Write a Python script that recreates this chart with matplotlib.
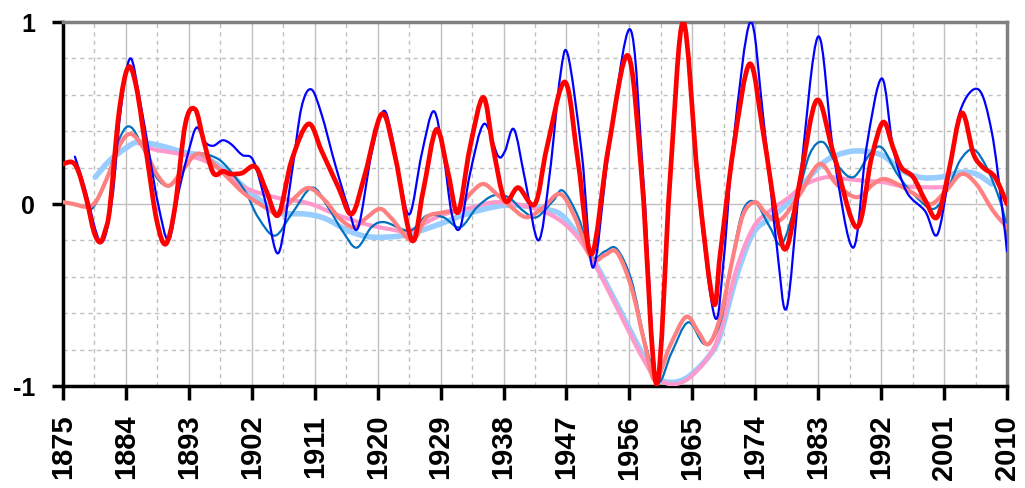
import numpy as np
import matplotlib.pyplot as plt
from matplotlib.path import Path
from matplotlib.patches import PathPatch

# series (year, value)
blue_years = [1876.7, 1878.1, 1880.4, 1882.0, 1883.2, 1884.6, 1886.0, 1887.4, 1888.6, 1890.1,
              1891.5, 1892.9, 1894.1, 1895.3, 1896.5, 1897.8, 1899.0, 1900.6, 1902.2, 1903.9,
              1905.8, 1907.7, 1909.1, 1910.5, 1912.0, 1913.9, 1915.8, 1917.2, 1919.1, 1920.8,
              1922.0, 1923.2, 1924.6, 1926.3, 1928.0, 1929.4, 1930.6, 1931.8, 1933.2, 1935.2,
              1937.2, 1938.2, 1939.5, 1941.1, 1943.0, 1944.6, 1946.1, 1947.2, 1949.2, 1950.8,
              1953.0, 1956.1, 1958.0, 1960.0, 1961.8, 1963.7, 1965.8, 1968.2, 1969.5, 1970.9,
              1973.3, 1975.1, 1977.1, 1978.5, 1980.4, 1983.0, 1985.2, 1988.0, 1989.9, 1992.1,
              1993.7, 1995.6, 1998.3, 2000.0, 2001.6, 2003.3, 2005.9, 2007.8, 2009.3, 2010.0]
blue_vals = [0.26, 0.09, -0.21, 0.02, 0.50, 0.80, 0.57, 0.26, 0.00, -0.20,
             0.06, 0.28, 0.42, 0.34, 0.32, 0.35, 0.33, 0.27, 0.24, 0.02,
             -0.27, 0.165, 0.53, 0.63, 0.49, 0.22, -0.02, -0.13, 0.275, 0.51,
             0.38, 0.13, -0.055, 0.275, 0.51, 0.275, -0.055, -0.13, 0.165, 0.44,
             0.265, 0.29, 0.41, 0.13, -0.20, 0.165, 0.70, 0.82, 0.275, -0.35,
             0.275, 0.96, 0.13, -1.0, 0.13, 1.0, 0.09, -0.62, -0.30, 0.35,
             1.0, 0.49, -0.24, -0.57, 0.13, 0.92, 0.275, -0.24, 0.31, 0.69,
             0.31, 0.07, -0.04, -0.17, 0.13, 0.51, 0.63, 0.40, -0.02, -0.26]

red_years = [1875.0, 1876.3, 1877.2, 1878.4, 1879.4, 1880.3, 1881.0, 1881.7, 1883.0, 1884.3,
             1885.5, 1887.0, 1888.4, 1889.7, 1891.0, 1892.5, 1893.9, 1895.1, 1896.5, 1897.9,
             1899.0, 1900.6, 1902.5, 1904.1, 1905.8, 1907.7, 1910.1, 1912.0, 1914.4, 1916.3,
             1918.2, 1920.6, 1922.5, 1924.9, 1926.5, 1928.4, 1930.1, 1931.5, 1933.2, 1935.1,
             1936.5, 1938.2, 1940.1, 1942.5, 1944.2, 1946.8, 1948.7, 1950.6, 1953.0, 1955.8,
             1957.8, 1959.9, 1961.8, 1963.7, 1965.8, 1968.0, 1969.0, 1970.9, 1973.2, 1975.1,
             1977.1, 1978.5, 1980.4, 1982.8, 1985.2, 1988.5, 1990.6, 1992.3, 1993.7, 1994.9,
             1996.6, 1998.3, 2000.0, 2001.6, 2003.5, 2005.2, 2006.6, 2008.3, 2010.0]
red_vals = [0.22, 0.23, 0.18, 0.02, -0.15, -0.21, -0.15, -0.02, 0.50, 0.75,
            0.64, 0.26, -0.09, -0.22, -0.02, 0.44, 0.52, 0.35, 0.17, 0.18,
            0.165, 0.17, 0.205, 0.07, -0.06, 0.24, 0.44, 0.29, 0.09, -0.055,
            0.165, 0.495, 0.26, -0.20, 0.07, 0.41, 0.165, -0.046, 0.31, 0.586,
            0.31, 0.02, 0.09, 0.0, 0.31, 0.67, 0.22, -0.275, 0.31, 0.815,
            0.13, -0.99, 0.13, 1.0, 0.13, -0.54, -0.27, 0.31, 0.77, 0.40,
            -0.09, -0.24, 0.13, 0.57, 0.275, -0.128, 0.25, 0.45, 0.31, 0.20,
            0.147, 0.02, -0.073, 0.165, 0.50, 0.275, 0.20, 0.147, 0.0]

steel_years = [1878.5, 1879.3, 1881.2, 1883.2, 1884.8, 1887.0, 1888.5, 1890.3, 1892.2, 1894.1,
               1896.5, 1898.3, 1901.0, 1902.9, 1905.3, 1907.7, 1910.6, 1912.9, 1915.0, 1917.0,
               1919.1, 1921.0, 1924.6, 1927.0, 1929.4, 1931.8, 1934.2, 1936.5, 1938.7, 1940.8,
               1942.7, 1945.1, 1946.5, 1948.7, 1950.6, 1952.5, 1954.2, 1956.3, 1958.2, 1960.1,
               1962.0, 1964.4, 1966.8, 1969.0, 1970.9, 1972.3, 1974.0, 1976.1, 1977.8, 1979.9,
               1981.8, 1983.7, 1985.6, 1988.0, 1990.4, 1992.1, 1994.3, 1996.6, 1999.5, 2001.6,
               2003.3, 2005.2, 2007.1, 2009.0, 2010.0]
steel_vals = [0.0, -0.02, 0.13, 0.37, 0.42, 0.26, 0.14, 0.10, 0.20, 0.275,
              0.26, 0.21, 0.073, -0.073, -0.174, -0.055, 0.09, -0.018, -0.15, -0.24,
              -0.128, -0.10, -0.147, -0.064, -0.073, -0.128, -0.018, 0.046, 0.037, -0.037,
              -0.073, 0.018, 0.073, -0.073, -0.29, -0.26, -0.247, -0.42, -0.75, -0.98,
              -0.82, -0.65, -0.77, -0.65, -0.26, -0.03, 0.01, -0.128, -0.22, 0.018,
              0.275, 0.34, 0.22, 0.147, 0.275, 0.31, 0.165, 0.055, -0.027, 0.09,
              0.24, 0.30, 0.20, 0.018, -0.128]

light_years = [1879.6, 1881.7, 1884.1, 1885.8, 1888.9, 1892.2, 1895.1, 1898.4, 1901.0, 1903.9,
               1905.8, 1909.6, 1912.5, 1915.8, 1918.7, 1922.0, 1924.6, 1928.9, 1932.7, 1937.5,
               1940.8, 1943.7, 1946.1, 1948.2, 1950.6, 1953.0, 1955.4, 1957.8, 1959.7, 1962.0,
               1964.4, 1967.3, 1969.0, 1971.3, 1973.7, 1976.1, 1978.5, 1981.3, 1984.2, 1987.1,
               1989.5, 1992.3, 1994.7, 1997.5, 2000.4, 2003.3, 2005.6, 2007.8]
light_vals = [0.147, 0.24, 0.31, 0.34, 0.32, 0.285, 0.26, 0.18, 0.09, 0.0,
              -0.05, -0.055, -0.08, -0.147, -0.18, -0.18, -0.165, -0.11, -0.055, -0.01,
              -0.01, -0.027, -0.055, -0.147, -0.29, -0.46, -0.64, -0.82, -0.95, -0.98,
              -0.95, -0.84, -0.72, -0.40, -0.16, -0.08, 0.0, 0.13, 0.24, 0.285,
              0.29, 0.265, 0.19, 0.147, 0.147, 0.174, 0.165, 0.11]

pink_years = [1886.0, 1888.0, 1891.7, 1895.1, 1898.3, 1901.0, 1905.3, 1910.1, 1913.9, 1918.2,
              1922.0, 1924.6, 1928.9, 1932.7, 1937.0, 1941.8, 1945.4, 1948.2, 1950.6, 1953.0,
              1955.4, 1957.8, 1959.7, 1962.0, 1964.4, 1967.3, 1969.0, 1971.3, 1973.7, 1976.1,
              1978.5, 1981.3, 1984.2, 1987.1, 1989.5, 1992.3, 1994.7, 1997.5, 2001.0]
pink_vals = [0.33, 0.30, 0.275, 0.24, 0.17, 0.09, 0.037, 0.004, -0.055, -0.11,
             -0.14, -0.147, -0.064, -0.027, 0.01, -0.018, -0.073, -0.165, -0.30, -0.476,
             -0.66, -0.84, -0.95, -0.99, -0.96, -0.84, -0.70, -0.36, -0.13, -0.037,
             0.027, 0.11, 0.147, 0.137, 0.128, 0.12, 0.10, 0.092, 0.092]

salmon_years = [1875.0, 1876.5, 1878.4, 1879.8, 1881.7, 1883.2, 1884.7, 1886.5, 1888.4, 1890.1,
                1892.0, 1894.1, 1896.0, 1898.3, 1901.0, 1903.9, 1905.8, 1907.7, 1910.1, 1912.5,
                1914.4, 1916.5, 1918.2, 1920.3, 1922.0, 1924.9, 1927.0, 1929.4, 1931.5, 1933.2,
                1935.1, 1937.0, 1938.9, 1941.3, 1943.7, 1946.1, 1948.2, 1950.6, 1952.5, 1954.2,
                1956.3, 1958.2, 1959.7, 1961.8, 1964.1, 1965.8, 1967.3, 1969.0, 1970.9, 1972.3,
                1974.0, 1975.5, 1977.5, 1980.4, 1983.2, 1985.6, 1988.5, 1990.9, 1992.6, 1995.2,
                1997.5, 1999.2, 2001.3, 2003.5, 2005.6, 2008.0, 2010.0]
salmon_vals = [0.01, 0.0, -0.015, 0.02, 0.18, 0.33, 0.385, 0.31, 0.165, 0.10,
               0.18, 0.275, 0.24, 0.155, 0.055, -0.018, -0.055, 0.018, 0.088, 0.018,
               -0.073, -0.128, -0.082, -0.027, -0.08, -0.20, -0.073, -0.046, -0.027, 0.055,
               0.11, 0.055, -0.01, -0.073, -0.018, 0.055, -0.073, -0.30, -0.28, -0.265,
               -0.46, -0.77, -0.97, -0.78, -0.62, -0.70, -0.77, -0.62, -0.275, -0.055,
               0.01, -0.05, -0.09, 0.055, 0.22, 0.11, 0.037, 0.11, 0.137, 0.09,
               0.037, 0.0, 0.073, 0.165, 0.11, -0.037, -0.128]

x_ticks = np.arange(1875, 2011, 9)


# ------------------------------
# Smoothed line (like a spreadsheet "smoothed line" chart): bezier through the points
# ------------------------------
def smooth_line(ax, xs, ys, **kw):
    p = np.column_stack([xs, ys]).astype(float)
    pad = np.vstack([p[:1], p, p[-1:]])
    verts = [p[0]]
    codes = [Path.MOVETO]
    for i in range(len(p) - 1):
        c1 = p[i] + (pad[i + 2] - pad[i]) / 6.0
        c2 = p[i + 1] - (pad[i + 3] - pad[i + 1]) / 6.0
        verts += [c1, c2, p[i + 1]]
        codes += [Path.CURVE4] * 3
    patch = PathPatch(Path(verts, codes), fill=False, transform=ax.transData,
                      capstyle='round', joinstyle='round', **kw)
    ax.add_patch(patch)
    return patch


plt.rcParams['font.family'] = ['Liberation Sans', 'DejaVu Sans']
plt.rcParams['axes.unicode_minus'] = False
fig = plt.figure(figsize=(10.25, 4.89), dpi=100)
ax = fig.add_axes([63/1025, 1 - 387/489, 944/1025, 364/489])

smooth_line(ax, light_years, light_vals, edgecolor='#99CCFF', lw=4.0, zorder=3)
smooth_line(ax, pink_years, pink_vals, edgecolor='#FF99CC', lw=3.0, zorder=4)
smooth_line(ax, steel_years, steel_vals, edgecolor='#0070C0', lw=1.6, zorder=5)
smooth_line(ax, salmon_years, salmon_vals, edgecolor='#FF8080', lw=3.0, zorder=6)
smooth_line(ax, blue_years, blue_vals, edgecolor='#0000FF', lw=1.6, zorder=7)
smooth_line(ax, red_years, red_vals, edgecolor='#FF0000', lw=3.4, zorder=8)

ax.set_xlim(1875, 2010)
ax.set_ylim(-1, 1)
ax.set_xticks(x_ticks)
ax.set_xticks(x_ticks[:-1] + 4.5, minor=True)
ax.set_yticks([-1, 0, 1])
ax.set_yticks([-0.8, -0.6, -0.4, -0.2, 0.2, 0.4, 0.6, 0.8], minor=True)

ax.grid(True, which='major', color='#C0C0C0', lw=1.0, ls='-', zorder=0)
ax.grid(True, which='minor', color='#C0C0C0', lw=1.0, ls=(0, (3, 3)), zorder=0)

ax.tick_params(which='minor', length=0)
ax.tick_params(axis='x', which='major', direction='out', length=10, width=2.5,
               pad=10, labelsize=21, labelrotation=90)
ax.tick_params(axis='y', which='major', direction='out', length=8, width=2.5,
               pad=12, labelsize=18)
for lab in ax.get_xticklabels() + ax.get_yticklabels():
    lab.set_fontweight('bold')

for side in ['left', 'bottom']:
    ax.spines[side].set_color('black')
    ax.spines[side].set_linewidth(2.5)
for side in ['top', 'right']:
    ax.spines[side].set_color('#808080')
    ax.spines[side].set_linewidth(2.5)

fig.savefig('out.png', dpi=100)
